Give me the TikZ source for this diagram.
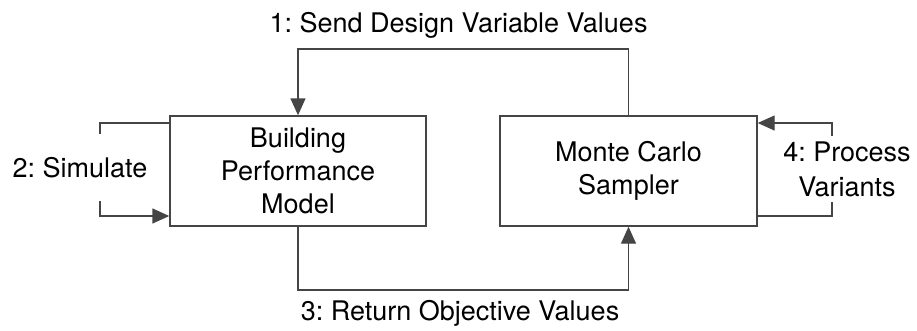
\documentclass[tikz,border=0pt]{standalone}
\usepackage{fontspec}
\setmainfont{TeX Gyre Heros}
\usetikzlibrary{arrows.meta}
\frenchspacing
\definecolor{ln}{HTML}{454545}
\tikzset{
  box/.style={draw=ln, line width=1.4pt, fill=white, minimum width=256pt, minimum height=110pt, align=center, inner sep=0pt, font=\fontsize{27}{33}\selectfont},
  lbl/.style={align=center, inner sep=0pt, font=\fontsize{27}{35}\selectfont},
  conn/.style={draw=ln, line width=1.4pt},
  arr/.style={conn, -{Triangle[length=17pt, width=15pt]}}
}
\begin{document}
\begin{tikzpicture}[x=1pt, y=-1pt]
\useasboundingbox (0,0) rectangle (917,330);
\node[box] (bpm) at (298,171) {Building\\Performance\\Model};
\node[box, minimum width=257pt] (mcs) at (628.5,171) {Monte Carlo\\Sampler};
\node[lbl] (l1) at (458.5,25) {1: Send Design Variable Values};
\node[lbl] (l3) at (460,313) {3: Return Objective Values};
\node[lbl] (l2) at (80,168) {2: Simulate};
\node[lbl] (l4) at (847,169) {4: Process\\Variants};
\coordinate (s2a) at (100,134);
\coordinate (s2b) at (100,201);
\coordinate (p4a) at (832,136);
\coordinate (p4b) at (832,202);
\draw[arr] (mcs.north) -- (mcs.north |- 0,49) -| (bpm.north);
\draw[arr] (bpm.south) -- (bpm.south |- 0,290) -| (mcs.south);
\draw[conn] (s2a) |- (bpm.west |- 0,123);
\draw[arr] (s2b) |- (bpm.west |- 0,216);
\draw[arr] (p4a) |- (mcs.east |- 0,123);
\draw[conn] (mcs.east |- 0,216) -| (p4b);
\end{tikzpicture}
\end{document}
